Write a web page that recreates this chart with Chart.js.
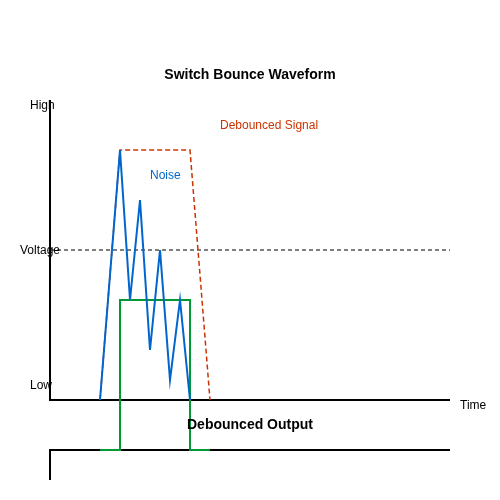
<!DOCTYPE html>
<html>
<head>
<meta charset="utf-8">
<script src="https://cdn.jsdelivr.net/npm/chart.js@4"></script>
<style>
  body { margin: 0; background: #fff; }
  #wrap { width: 500px; height: 500px; }
</style>
</head>
<body>
<div id="wrap"><canvas id="chart"></canvas></div>
<script>
// data in time units (x) and voltage units (y), 0 = low level
const signalX = [50, 70, 140, 160];
const signalY = [0, 250, 250, 0];
const noiseX = [50, 70, 80, 90, 100, 110, 120, 130, 140];
const noiseY = [0, 250, 100, 200, 50, 150, 20, 100, 0];
const outputX = [50, 70, 70, 140, 140, 160];
const outputY = [-50, -50, 100, 100, -50, -50];
const thresholdY = 150;
const axisX = [0, 400];

const pts = (xs, ys) => xs.map((x, i) => ({ x: x, y: ys[i] }));
const line = (data, color, dash) => ({
  data: data, borderColor: color, borderWidth: dash ? 1.5 : 2,
  borderDash: dash || [], pointRadius: 0, fill: false, tension: 0
});

// labels at data positions
const labels = [
  { t: "Switch Bounce Waveform", x: 200, y: 325, c: "#000", b: true, a: "center", s: 14 },
  { t: "High", x: -20, y: 294, c: "#000", a: "left", s: 12 },
  { t: "Voltage", x: -30, y: 149, c: "#000", a: "left", s: 12 },
  { t: "Low", x: -20, y: 14, c: "#000", a: "left", s: 12 },
  { t: "Time", x: 410, y: -6, c: "#000", a: "left", s: 12 },
  { t: "Debounced Signal", x: 170, y: 274, c: "#cc3300", a: "left", s: 12 },
  { t: "Noise", x: 100, y: 224, c: "#0066cc", a: "left", s: 12 },
  { t: "Debounced Output", x: 200, y: -25, c: "#000", b: true, a: "center", s: 14 }
];

const textPlugin = {
  id: "texts",
  afterDraw(chart) {
    const ctx = chart.ctx, sx = chart.scales.x, sy = chart.scales.y;
    ctx.save();
    ctx.textBaseline = "middle";
    labels.forEach(l => {
      ctx.font = (l.b ? "bold " : "") + l.s + "px 'Liberation Sans', Arial, sans-serif";
      ctx.fillStyle = l.c;
      ctx.textAlign = l.a;
      ctx.fillText(l.t, sx.getPixelForValue(l.x), sy.getPixelForValue(l.y));
    });
    ctx.restore();
  }
};

// first dataset is drawn on top
new Chart(document.getElementById("chart"), {
  type: "line",
  data: {
    datasets: [
      line(pts(noiseX, noiseY), "#0066cc"),
      line(pts(signalX, signalY), "#cc3300", [5, 3]),
      line(pts(outputX, outputY), "#009933"),
      line(pts([0, 0, 400], [-80, -50, -50]), "#000"),
      line(pts([0, 0, 400], [300, 0, 0]), "#000"),
      line(pts(axisX, [thresholdY, thresholdY]), "#555", [4, 3])
    ]
  },
  options: {
    responsive: true,
    maintainAspectRatio: false,
    animation: false,
    layout: { padding: 0 },
    plugins: { legend: { display: false }, tooltip: { enabled: false } },
    scales: {
      x: { type: "linear", min: -50, max: 450, display: false },
      y: { type: "linear", min: -100, max: 400, display: false }
    }
  },
  plugins: [textPlugin]
});
</script>
</body>
</html>
